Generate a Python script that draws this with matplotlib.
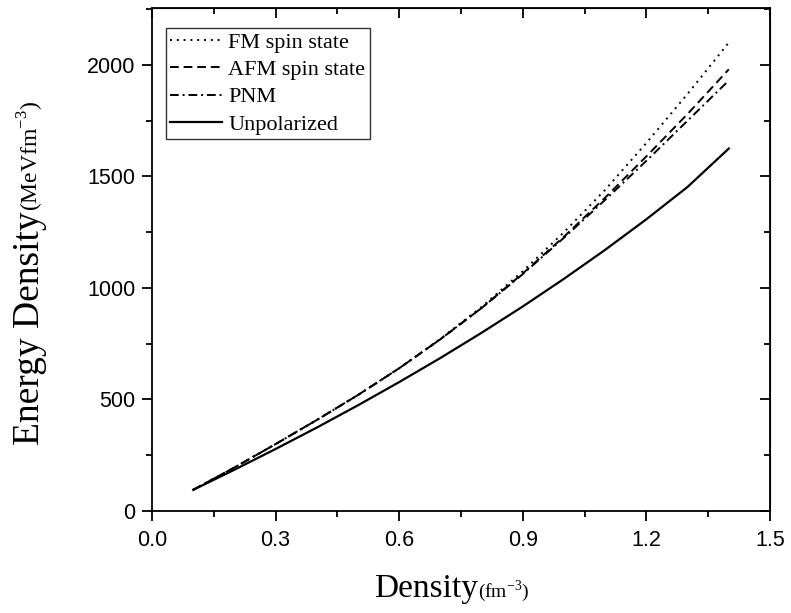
import numpy as np
import matplotlib.pyplot as plt
from matplotlib.ticker import MultipleLocator

# density (fm^-3)
density = [0.1, 0.2, 0.3, 0.4, 0.5, 0.6, 0.7, 0.8, 0.9, 1.0, 1.1, 1.2, 1.3, 1.4]
# energy density (MeV fm^-3)
fm_state = [95, 195, 300, 408, 520, 640, 772, 915, 1075, 1250, 1440, 1650, 1870, 2100]
afm_state = [95, 195, 300, 408, 520, 640, 770, 910, 1065, 1230, 1405, 1590, 1780, 1980]
pnm = [95, 195, 300, 408, 520, 640, 770, 910, 1062, 1225, 1395, 1570, 1750, 1930]
unpolarized = [95, 185, 278, 374, 474, 578, 686, 799, 917, 1041, 1171, 1308, 1453, 1625]

serif = ['Liberation Serif', 'DejaVu Serif']
sans = ['Liberation Sans', 'DejaVu Sans']

fig = plt.figure(figsize=(7.91, 6.13), dpi=100)
ax = fig.add_axes([152 / 791, 1 - 511 / 613, (770 - 152) / 791, (511 - 8) / 613])

ax.plot(density, fm_state, color='black', lw=1.4, ls=(0, (1, 2.5)), label='FM spin state')
ax.plot(density, afm_state, color='black', lw=1.4, ls=(0, (4.5, 2.5)), label='AFM spin state')
ax.plot(density, pnm, color='black', lw=1.4, ls=(0, (4.5, 2, 1, 2)), label='PNM')
ax.plot(density, unpolarized, color='black', lw=1.6, ls='-', label='Unpolarized')

ax.set_xlim(0, 1.5)
ax.set_ylim(0, 2255)
ax.xaxis.set_major_locator(MultipleLocator(0.3))
ax.xaxis.set_minor_locator(MultipleLocator(0.15))
ax.yaxis.set_major_locator(MultipleLocator(500))
ax.yaxis.set_minor_locator(MultipleLocator(250))
ax.set_xticks([0.0, 0.3, 0.6, 0.9, 1.2, 1.5])
ax.set_xticklabels(['0.0', '0.3', '0.6', '0.9', '1.2', '1.5'])

for sp in ax.spines.values():
    sp.set_linewidth(1.3)
ax.tick_params(which='both', direction='out', top=False, right=False, width=1.3)
ax.tick_params(which='major', length=7, pad=5)
ax.tick_params(axis='x', which='major', pad=7)
ax.tick_params(which='minor', length=4)
for lab in ax.get_xticklabels() + ax.get_yticklabels():
    lab.set_family(sans)
    lab.set_fontsize(15.5)

# mirrored inward ticks on the top and right
top = ax.secondary_xaxis('top')
top.xaxis.set_major_locator(MultipleLocator(0.3))
top.xaxis.set_minor_locator(MultipleLocator(0.15))
top.tick_params(which='both', direction='in', labeltop=False, width=1.3)
top.tick_params(which='major', length=7)
top.tick_params(which='minor', length=4)
right = ax.secondary_yaxis('right')
right.yaxis.set_major_locator(MultipleLocator(500))
right.yaxis.set_minor_locator(MultipleLocator(250))
right.tick_params(which='both', direction='in', labelright=False, width=1.3)
right.tick_params(which='major', length=7)
right.tick_params(which='minor', length=4)

leg = ax.legend(loc='upper left', bbox_to_anchor=(14 / 618, 1 - 20 / 503),
                prop={'family': serif, 'size': 16}, frameon=True, fancybox=False,
                borderpad=0.2, labelspacing=0.3, handlelength=2.3, handletextpad=0.3,
                borderaxespad=0)
leg.get_frame().set_edgecolor('black')
leg.get_frame().set_linewidth(1.0)

# axis labels with smaller unit part
W, H = 791, 613
t1 = fig.text(374 / W, 1 - 597 / H, 'Density', family=serif, fontsize=24,
              ha='left', va='baseline')
fig.canvas.draw()
bb = t1.get_window_extent()
fig.text(bb.x1 / W, 1 - 597 / H, '(fm$^{\\mathregular{-3}}$)', family=serif, fontsize=14,
         ha='left', va='baseline')

t2 = fig.text(39 / W, 1 - 445 / H, 'Energy Density', family=serif, fontsize=27,
              rotation=90, rotation_mode='anchor', ha='left', va='baseline')
fig.canvas.draw()
bb = t2.get_window_extent()
fig.text(39 / W, bb.y1 / H, '(MeVfm$^{\\mathregular{-3}}$)', family=serif, fontsize=17,
         rotation=90, rotation_mode='anchor', ha='left', va='baseline')

fig.savefig('out.png', dpi=100)
